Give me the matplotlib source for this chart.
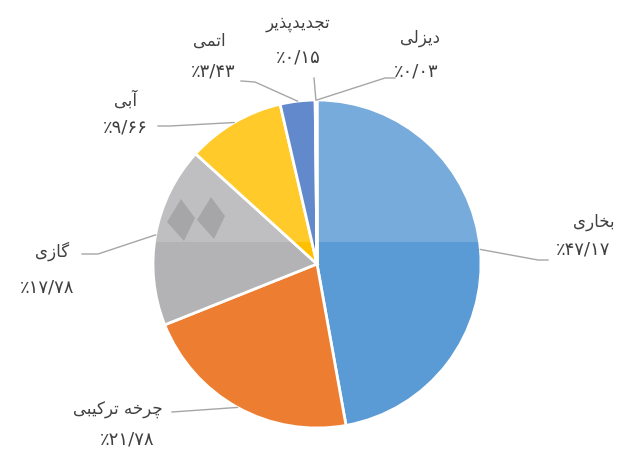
import numpy as np
import matplotlib
matplotlib.use("Agg")
import matplotlib.pyplot as plt

# ---------------------------------------------------
# Data (share of electricity generation by plant type)
# ---------------------------------------------------

# plant names, already shaped (presentation forms, visual order)
names = [
    "\ufeef\ufead\ufe8e\ufea8\ufe91",                                   # بخاری
    "\ufef0\ufe92\ufef4\ufb90\ufeae\ufe97 \ufeea\ufea7\ufeae\ufb7c",    # چرخه ترکیبی
    "\ufeef\ufeaf\ufe8e\ufb94",                                         # گازی
    "\ufef0\ufe91\ufe81",                                               # آبی
    "\ufef0\ufee4\ufe97\ufe8d",                                         # اتمی
    "\ufeae\ufef3\ufeac\ufb58\ufeaa\ufef3\ufeaa\ufea0\ufe97",          # تجدیدپذیر
    "\ufef0\ufedf\ufeb0\ufef3\ufea9",                                   # دیزلی
]
shares = [47.17, 21.78, 17.78, 9.66, 3.43, 0.15, 0.03]
pct_labels = ["٪۴۷/۱۷", "٪۲۱/۷۸", "٪۱۷/۷۸", "٪۹/۶۶", "٪۳/۴۳", "٪۰/۱۵", "٪۰/۰۳"]

colors = ["#5B9BD5", "#ED7D31", "#B3B3B5", "#FFC000", "#4472C4", "#70AD47", "#255E91"]

# ---------------------------------------------------
# Layout (pixel positions, y measured from top)
# ---------------------------------------------------

W, H = 619, 455
center = (317, H - 264)
radius = 164

# name centre, percent centre, leader end
layout = [
    ((594, 222), (583, 250), [(538, 260), (548, 260)]),
    ((118, 410), (127, 440), [(172, 412)]),
    ((52, 251), (47, 288), [(98, 254), (82, 254)]),
    ((126, 100), (125, 127), [(170, 126), (158, 126)]),
    ((209, 41), (213, 72), [(255, 82), (241, 81)]),
    ((298, 23), (298, 57), [(314, 78)]),
    ((420, 38), (416, 71), [(385, 78), (395, 78)]),
]

fig = plt.figure(figsize=(W / 100, H / 100), dpi=100)
ax = fig.add_axes([0, 0, 1, 1])

wedges, _ = ax.pie(
    shares,
    colors=colors,
    startangle=90,
    counterclock=False,
    center=center,
    radius=radius,
    wedgeprops=dict(edgecolor="white", linewidth=2),
)

ax.set_xlim(0, W)
ax.set_ylim(0, H)
ax.set_aspect("equal")
ax.axis("off")

# watermark: light band on the upper part and two dots
ax.add_patch(plt.Rectangle((0, H - 242), W, 242, color="white", alpha=0.17,
                           lw=0, zorder=5))
for cx, cy in [(181, 220), (211, 218)]:
    dot = plt.Polygon([(cx, H - cy + 21), (cx + 14, H - cy + 2),
                       (cx + 3, H - cy - 21), (cx - 14, H - cy - 2)],
                      closed=True, color="#7a7a7a", alpha=0.35, lw=0, zorder=5)
    ax.add_patch(dot)

txt_color = "#404040"
line_color = "#A6A6A6"

for w, name, pct, (npos, ppos, ends) in zip(wedges, names, pct_labels, layout):
    mid = np.deg2rad((w.theta1 + w.theta2) / 2)
    x0 = center[0] + radius * np.cos(mid)
    y0 = center[1] + radius * np.sin(mid)
    xs = [x0] + [e[0] for e in ends]
    ys = [y0] + [H - e[1] for e in ends]
    ax.plot(xs, ys, color=line_color, lw=1, zorder=6)
    ax.text(npos[0], H - npos[1], name, ha="center", va="center",
            fontsize=12, color=txt_color, family="DejaVu Sans", zorder=7)
    ax.text(ppos[0], H - ppos[1], pct, ha="center", va="center",
            fontsize=13, color=txt_color, family="DejaVu Sans", zorder=7)

fig.savefig("out.png", dpi=100)
